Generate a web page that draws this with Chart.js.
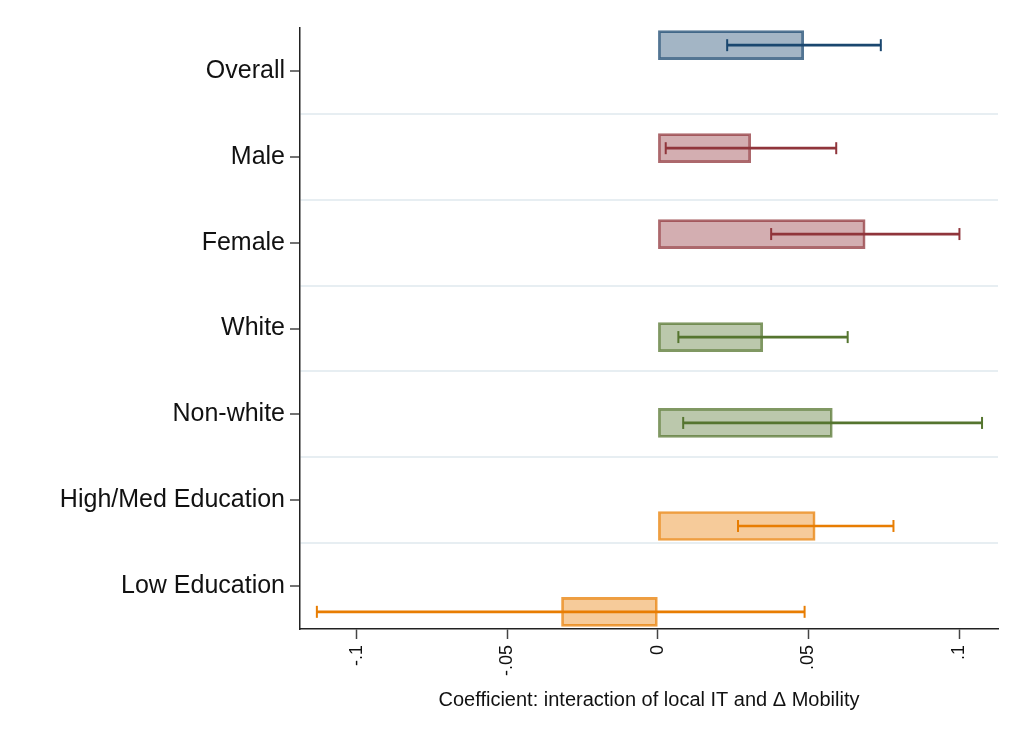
<!DOCTYPE html>
<html>
<head>
<meta charset="utf-8">
<script src="https://cdn.jsdelivr.net/npm/chart.js@4.4.0/dist/chart.umd.min.js"></script>
<style>
  html, body { margin: 0; padding: 0; background: #fff; }
  #chart { display: block; }
</style>
</head>
<body>
<canvas id="chart" width="1013" height="742"></canvas>
<script>
// Values
const categories = ['Overall', 'Male', 'Female', 'White', 'Non-white', 'High/Med Education', 'Low Education'];
const groups = ['overall', 'gender', 'gender', 'race', 'race', 'edu', 'edu'];
const coef = [0.0484, 0.0308, 0.0688, 0.0348, 0.0579, 0.0522, -0.0320];
const ciLow = [0.0230, 0.0026, 0.0376, 0.0068, 0.0084, 0.0266, -0.1132];
const ciHigh = [0.0740, 0.0592, 0.1001, 0.0630, 0.1076, 0.0782, 0.0487];
const xTicks = [-0.1, -0.05, 0, 0.05, 0.1];
const xTickLabels = ['-.1', '-.05', '0', '.05', '.1'];
const xTitle = 'Coefficient: interaction of local IT and \u0394 Mobility';

// Styling / layout
const groupStyle = {
  overall: { slot: 0, rgb: '26,71,111' },
  gender:  { slot: 1, rgb: '144,53,59' },
  race:    { slot: 2, rgb: '85,117,47' },
  edu:     { slot: 3, rgb: '232,125,2' }
};
const rowPos = i => i + 1 + (groupStyle[groups[i]].slot - 1.5) * 0.2;
const fill = i => `rgba(${groupStyle[groups[i]].rgb},0.4)`;
const edge = i => `rgba(${groupStyle[groups[i]].rgb},0.75)`;
const solid = i => `rgb(${groupStyle[groups[i]].rgb})`;

const idx = categories.map((_, i) => i);
const capPoints = [];
const capColors = [];
idx.forEach(i => {
  capPoints.push({ x: ciLow[i], y: rowPos(i) }, { x: ciHigh[i], y: rowPos(i) });
  capColors.push(solid(i), solid(i));
});

const rowTicks = [];
for (let v = 0.5; v <= categories.length + 0.5; v += 0.5) rowTicks.push(v);
const isRow = v => Number.isInteger(v);
const isEdge = v => v === 0.5 || v === categories.length + 0.5;
const font = size => ({ family: 'Liberation Sans, Arial, sans-serif', size });

new Chart(document.getElementById('chart').getContext('2d'), {
  data: {
    datasets: [
      {
        type: 'scatter',
        data: capPoints,
        pointStyle: 'line',
        rotation: 90,
        radius: 6,
        hoverRadius: 6,
        borderColor: capColors,
        borderWidth: 2,
        order: 1
      },
      {
        type: 'bar',
        data: idx.map(i => ({ x: [ciLow[i], ciHigh[i]], y: rowPos(i) })),
        backgroundColor: idx.map(solid),
        borderWidth: 0,
        barThickness: 2,
        grouped: false,
        order: 2
      },
      {
        type: 'bar',
        data: idx.map(i => ({ x: [0, coef[i]], y: rowPos(i) })),
        backgroundColor: idx.map(fill),
        borderColor: idx.map(edge),
        borderWidth: 2,
        borderSkipped: false,
        barThickness: 29,
        grouped: false,
        order: 3
      }
    ]
  },
  options: {
    indexAxis: 'y',
    responsive: false,
    animation: false,
    layout: { padding: { top: 28, right: 15, bottom: 0, left: 0 } },
    plugins: { legend: { display: false }, tooltip: { enabled: false } },
    scales: {
      y: {
        type: 'linear',
        reverse: true,
        offset: false,
        min: 0.5,
        max: categories.length + 0.5,
        afterBuildTicks: s => { s.ticks = rowTicks.map(v => ({ value: v })); },
        afterFit: s => { s.width = 300; },
        border: { display: true, color: '#222', width: 1.5 },
        grid: {
          offset: false,
          color: c => (c.tick && !isRow(c.tick.value) && !isEdge(c.tick.value)) ? '#e7eef2' : 'rgba(0,0,0,0)',
          tickColor: c => (c.tick && isRow(c.tick.value)) ? '#444' : 'rgba(0,0,0,0)',
          lineWidth: 2,
          tickLength: 10,
          tickWidth: 1.5
        },
        ticks: {
          autoSkip: false,
          padding: 5,
          color: '#111',
          font: font(25),
          callback: v => isRow(v) ? categories[v - 1] : ''
        }
      },
      x: {
        type: 'linear',
        min: -0.1188,
        max: 0.1129,
        afterBuildTicks: s => { s.ticks = xTicks.map(v => ({ value: v })); },
        afterFit: s => { s.height = 113; },
        border: { display: true, color: '#222', width: 1.5 },
        grid: { drawOnChartArea: false, tickLength: 10, tickColor: '#444', tickWidth: 1.5 },
        ticks: {
          autoSkip: false,
          minRotation: 90,
          maxRotation: 90,
          padding: 6,
          color: '#111',
          font: font(18),
          callback: (v, i) => xTickLabels[i]
        },
        title: {
          display: true,
          text: xTitle,
          color: '#111',
          padding: { top: 30, bottom: 30 },
          font: font(20)
        }
      }
    }
  }
});
</script>
</body>
</html>
